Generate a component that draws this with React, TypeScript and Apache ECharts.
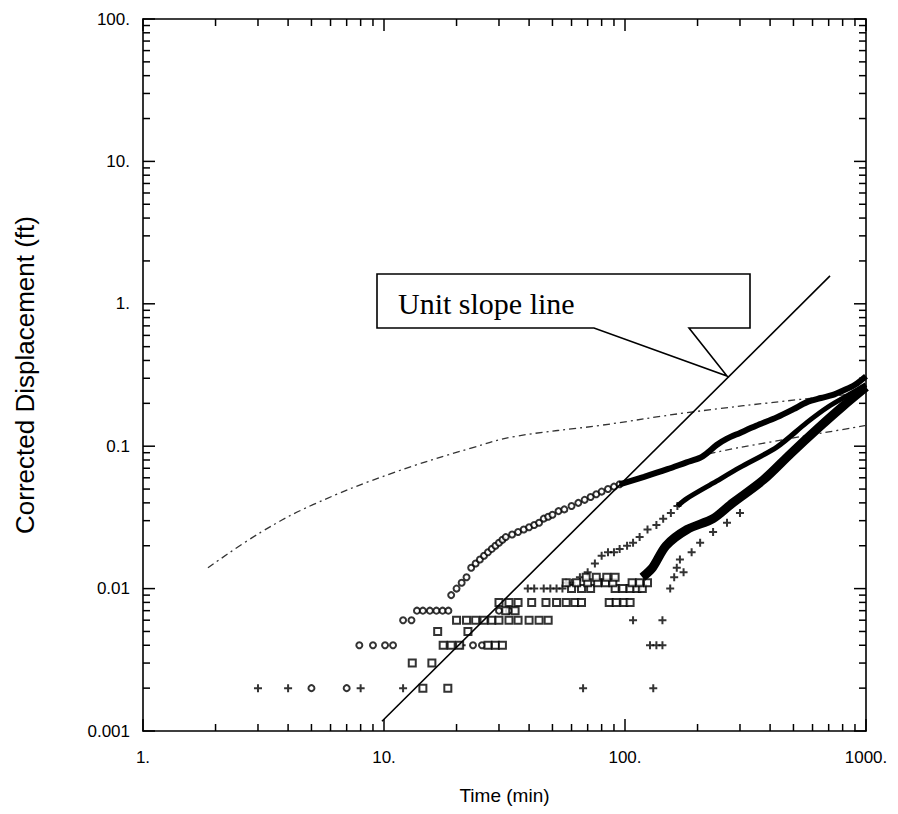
import React, { useEffect, useRef } from "react";
import * as echarts from "echarts";

// ---------- axis / tick data ----------
const X_MIN = 1;
const X_MAX = 1000;
const Y_MIN = 0.001;
const Y_MAX = 100;
const xTickText = ["1.", "10.", "100.", "1000."]; // exponents 0..3
const yTickText = ["0.001", "0.01", "0.1", "1.", "10.", "100."]; // exponents -3..2
const xMajorTicks = [1, 10, 100, 1000];
const yMajorTicks = [0.001, 0.01, 0.1, 1, 10, 100];
const minorMultipliers = [2, 3, 4, 5, 6, 7, 8, 9];

// ---------- series data (x = time min, y = displacement ft) ----------
const circlesScatter: number[][] = [
  [5, 0.002], [7, 0.002],
  [7.9, 0.004], [9, 0.004], [10.1, 0.004], [10.9, 0.004],
  [12, 0.006], [13, 0.006],
  [13.7, 0.007], [14.5, 0.007], [15.5, 0.007], [16.5, 0.007], [17.5, 0.007], [18.5, 0.007],
  [23.4, 0.004], [25.5, 0.004], [30, 0.007], [33, 0.007],
  [19, 0.009], [20, 0.01], [21, 0.011], [22, 0.012], [23, 0.014], [24, 0.015], [25, 0.016],
  [26, 0.017], [27, 0.018], [28, 0.019], [29, 0.02], [30, 0.021], [31, 0.022], [32, 0.023],
  [34, 0.024], [36, 0.025], [38, 0.026], [40, 0.027], [42, 0.028], [44, 0.029], [46, 0.031],
  [48, 0.032], [50, 0.033], [53, 0.035], [56, 0.036], [60, 0.038], [64, 0.04], [68, 0.042],
  [72, 0.044], [76, 0.046], [80, 0.048], [85, 0.05], [90, 0.052], [95, 0.054],
];
const circlesBand: number[][] = [
  [95, 0.054], [120, 0.061], [150, 0.069], [180, 0.077], [205, 0.083], [220, 0.09],
  [240, 0.102], [265, 0.113], [300, 0.124], [350, 0.139], [428, 0.16], [500, 0.182],
  [569, 0.204], [650, 0.218], [729, 0.229], [800, 0.245], [900, 0.27], [1000, 0.31],
];
const plusScatter: number[][] = [
  [3, 0.002], [4, 0.002], [8, 0.002], [12, 0.002], [67, 0.002], [131, 0.002],
  [21, 0.004], [127, 0.004], [135, 0.004], [143, 0.004], [108, 0.006], [143, 0.006],
  [39.5, 0.01], [42, 0.01], [46, 0.01], [49, 0.01], [52, 0.01], [55, 0.01],
  [57, 0.011], [60, 0.011], [65, 0.012], [70, 0.013], [75, 0.015], [80, 0.017], [85, 0.018],
  [90, 0.018], [95, 0.019], [102, 0.02], [108, 0.021], [115, 0.023], [124, 0.026],
  [135, 0.028], [144, 0.031], [155, 0.034], [165, 0.038],
];
const plusBand: number[][] = [
  [165, 0.038], [181, 0.043], [232, 0.055], [300, 0.071], [428, 0.099], [569, 0.147],
  [700, 0.19], [850, 0.23], [1000, 0.27],
];
const squaresScatter: number[][] = [
  [14.5, 0.002], [18.4, 0.002], [13.1, 0.003], [15.8, 0.003],
  [17.6, 0.004], [19, 0.004], [20.6, 0.004], [27, 0.004], [29, 0.004], [31, 0.004],
  [16.7, 0.005], [22.3, 0.005],
  [20, 0.006], [22, 0.006], [24, 0.006], [26, 0.006], [28, 0.006], [30, 0.006], [33, 0.006],
  [36, 0.006], [40, 0.006], [44, 0.006], [48, 0.006], [32, 0.007], [35, 0.007],
  [30, 0.008], [33, 0.008], [36, 0.008], [41, 0.008], [47, 0.008], [52, 0.008], [57, 0.008],
  [62, 0.008], [66, 0.008], [86, 0.008], [92, 0.008], [99, 0.008], [105, 0.008],
  [60, 0.01], [66, 0.01], [72, 0.01], [91, 0.01], [98, 0.01], [105, 0.01], [112, 0.01], [118, 0.01],
  [57, 0.011], [63, 0.011], [70, 0.011], [77, 0.011], [83, 0.011], [89, 0.011],
  [107, 0.011], [115, 0.011], [124, 0.011],
  [69, 0.012], [76, 0.012], [84, 0.012], [91, 0.012],
];
const squaresBand: number[][] = [
  [118, 0.012], [130, 0.014], [148, 0.02], [181, 0.026], [232, 0.031], [280, 0.04],
  [375, 0.058], [488, 0.089], [640, 0.136], [800, 0.19], [1000, 0.26],
];
const plusRight: number[][] = [
  [154, 0.01], [160, 0.012], [164, 0.014], [169, 0.016], [175, 0.013], [189, 0.018],
  [205, 0.021], [232, 0.025], [265, 0.029], [300, 0.034],
];
const typeCurveUpper: number[][] = [
  [1.86, 0.014], [3.1, 0.025], [5.1, 0.039], [10.9, 0.065], [23, 0.097], [35, 0.117],
  [79, 0.14], [181, 0.172], [532, 0.213], [1000, 0.237],
];
const typeCurveLower: number[][] = [
  [120, 0.062], [180, 0.078], [232, 0.0896], [400, 0.107], [700, 0.126], [1000, 0.14],
];
const unitSlopeLine: number[][] = [
  [9.81, 0.00117], [709, 1.57],
];
const calloutText = "Unit slope line";

const PLUS = "path://M3,0H5V3H8V5H5V8H3V5H0V3H3Z";
const TICK_COLOR = "#000";

export default function App() {
  const ref = useRef<HTMLDivElement>(null);
  useEffect(() => {
    if (!ref.current) return;
    const chart = echarts.init(ref.current, undefined, { renderer: "svg" });
    const font = "Liberation Sans, Arial, sans-serif";
    const axisLine = { show: true, onZero: false, lineStyle: { color: "#000", width: 1.6 } };
    const xFmt = (v: number) => xTickText[Math.round(Math.log10(v))] ?? "";
    const yFmt = (v: number) => yTickText[Math.round(Math.log10(v)) + 3] ?? "";
    const scatterBase = { type: "scatter", xAxisIndex: 0, yAxisIndex: 0, silent: true };

    // tick values (major + minor), drawn by a custom series through the axes' scales
    const xTickData: number[][] = [];
    const yTickData: number[][] = [];
    xMajorTicks.forEach((d, i) => {
      xTickData.push([d, 1, 1]);
      if (i < xMajorTicks.length - 1) minorMultipliers.forEach((m) => xTickData.push([d * m, 1, 0]));
    });
    yMajorTicks.forEach((d, i) => {
      yTickData.push([1, d, 1]);
      if (i < yMajorTicks.length - 1) minorMultipliers.forEach((m) => yTickData.push([1, d * m, 0]));
    });

    const option: any = {
      animation: false,
      backgroundColor: "#fff",
      grid: { left: 143, top: 19, width: 723, height: 712, containLabel: false },
      xAxis: [
        {
          type: "log", logBase: 10, min: X_MIN, max: X_MAX, position: "bottom",
          axisLine, axisTick: { show: false }, splitLine: { show: false },
          axisLabel: { formatter: xFmt, color: "#000", fontSize: 17, fontFamily: font, margin: 18 },
          name: "Time (min)", nameLocation: "middle", nameGap: 55,
          nameTextStyle: { color: "#000", fontSize: 19, fontFamily: font },
        },
        {
          type: "log", logBase: 10, min: X_MIN, max: X_MAX, position: "top",
          axisLine, axisTick: { show: false }, splitLine: { show: false }, axisLabel: { show: false },
        },
      ],
      yAxis: [
        {
          type: "log", logBase: 10, min: Y_MIN, max: Y_MAX, position: "left",
          axisLine, axisTick: { show: false }, splitLine: { show: false },
          axisLabel: { formatter: yFmt, color: "#000", fontSize: 17, fontFamily: font, margin: 13 },
          name: "Corrected Displacement (ft)", nameLocation: "middle", nameGap: 105,
          nameTextStyle: { color: "#000", fontSize: 26, fontFamily: font },
        },
        {
          type: "log", logBase: 10, min: Y_MIN, max: Y_MAX, position: "right",
          axisLine, axisTick: { show: false }, splitLine: { show: false }, axisLabel: { show: false },
        },
      ],
      series: [
        {
          type: "line", data: typeCurveUpper, smooth: 0.4, symbol: "none", silent: true,
          lineStyle: { color: "#333", width: 1.3, type: [7, 4, 2, 4] },
        },
        {
          type: "line", data: typeCurveLower, smooth: 0.4, symbol: "none", silent: true,
          lineStyle: { color: "#333", width: 1.3, type: [7, 4, 2, 4] },
        },
        { ...scatterBase, data: circlesScatter, symbol: "emptyCircle", symbolSize: 6,
          itemStyle: { color: "#000", borderColor: "#000", borderWidth: 1 } },
        {
          type: "line", data: circlesBand, smooth: 0.3, symbol: "none", silent: true,
          lineStyle: { color: "#000", width: 6 },
        },
        { ...scatterBase, data: plusScatter, symbol: PLUS, symbolSize: 8,
          itemStyle: { color: "#000" } },
        {
          type: "line", data: plusBand, smooth: 0.3, symbol: "none", silent: true,
          lineStyle: { color: "#000", width: 5 },
        },
        { ...scatterBase, data: squaresScatter, symbol: "emptyRect", symbolSize: 7,
          itemStyle: { color: "#000", borderColor: "#000", borderWidth: 1.2 } },
        {
          type: "line", data: squaresBand, smooth: 0.3, symbol: "none", silent: true,
          lineStyle: { color: "#000", width: 9 },
        },
        { ...scatterBase, data: plusRight, symbol: PLUS, symbolSize: 8,
          itemStyle: { color: "#000" } },
        {
          type: "line", data: unitSlopeLine, symbol: "none", silent: true,
          lineStyle: { color: "#000", width: 1.6 },
        },
        {
          type: "custom", silent: true, clip: false, z: 10,
          encode: { x: 0, y: 1 },
          data: xTickData,
          renderItem: (_p: any, api: any) => {
            const v = api.value(0);
            const len = api.value(2) ? 12 : 7;
            const b = api.coord([v, Y_MIN]);
            const t = api.coord([v, Y_MAX]);
            return {
              type: "group",
              children: [
                { type: "rect", shape: { x: b[0] - 0.75, y: b[1] - len, width: 1.5, height: len }, style: { fill: TICK_COLOR } },
                { type: "rect", shape: { x: t[0] - 0.75, y: t[1], width: 1.5, height: len }, style: { fill: TICK_COLOR } },
              ],
            };
          },
        },
        {
          type: "custom", silent: true, clip: false, z: 10,
          encode: { x: 0, y: 1 },
          data: yTickData,
          renderItem: (_p: any, api: any) => {
            const v = api.value(1);
            const len = api.value(2) ? 12 : 7;
            const l = api.coord([X_MIN, v]);
            const r = api.coord([X_MAX, v]);
            return {
              type: "group",
              children: [
                { type: "rect", shape: { x: l[0], y: l[1] - 0.75, width: len, height: 1.5 }, style: { fill: TICK_COLOR } },
                { type: "rect", shape: { x: r[0] - len, y: r[1] - 0.75, width: len, height: 1.5 }, style: { fill: TICK_COLOR } },
              ],
            };
          },
        },
      ],
      graphic: [
        {
          type: "polygon", z: 100,
          shape: {
            points: [
              [377, 274], [750, 274], [750, 328], [689, 328], [727, 376], [594, 328], [377, 328],
            ],
          },
          style: { fill: "#fff", stroke: "#000", lineWidth: 1.6 },
        },
        {
          type: "text", z: 101, x: 398, y: 303,
          style: {
            text: calloutText, fill: "#000", font: "30px 'Liberation Serif', 'Times New Roman', serif",
            verticalAlign: "middle", align: "left",
          },
        },
      ],
    };
    chart.setOption(option);
    return () => chart.dispose();
  }, []);
  return (
    <div
      ref={ref}
      style={{ position: "absolute", left: 0, top: 0, width: 898, height: 814, background: "#fff" }}
    />
  );
}
